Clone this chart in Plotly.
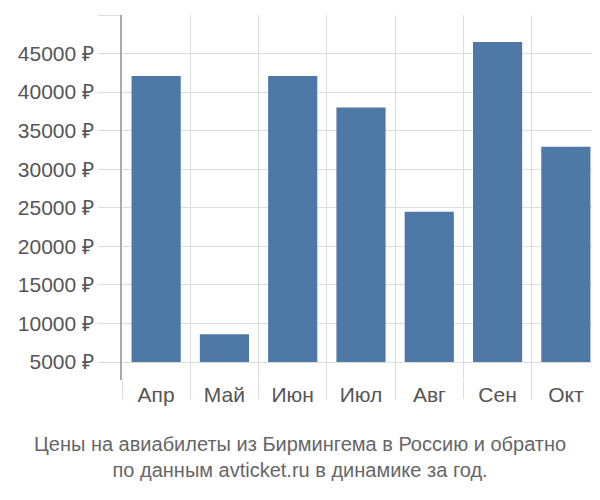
import plotly.graph_objects as go

months = ["Апр", "Май", "Июн", "Июл", "Авг", "Сен", "Окт"]
prices = [42100, 8600, 42100, 38000, 24500, 46500, 32900]
tick_vals = [5000, 10000, 15000, 20000, 25000, 30000, 35000, 40000, 45000, 50000]
tick_text = [f"{v} ₽" for v in tick_vals]

base = 5000
fig = go.Figure(
    go.Bar(
        x=months,
        y=[p - base for p in prices],
        base=base,
        marker=dict(color="#4e79a7", line=dict(width=0)),
        width=0.72,
    )
)

# page body has an 8px margin, so everything is shifted by -8 here
fig.update_layout(
    width=592,
    height=492,
    margin=dict(l=114, r=0, t=7, b=120),
    plot_bgcolor="white",
    paper_bgcolor="white",
    font=dict(family="Liberation Sans, Arial", size=21, color="#555"),
    showlegend=False,
    bargap=0.28,
)
fig.update_yaxes(
    range=[2666, 50000],
    tickvals=tick_vals,
    ticktext=tick_text,
    showgrid=True,
    gridcolor="#ddd",
    ticks="outside",
    ticklen=22,
    tickcolor="#ddd",
    showline=True,
    linecolor="#aaa",
    linewidth=1.5,
    zeroline=False,
)
fig.update_xaxes(
    type="category",
    tickson="boundaries",
    showgrid=True,
    gridcolor="#ddd",
    ticks="outside",
    ticklen=18,
    tickcolor="#ddd",
    showline=False,
)

fig.add_annotation(
    text="Цены на авиабилеты из Бирмингема в Россию и обратно<br>по данным avticket.ru в динамике за год.",
    xref="paper", yref="paper", x=0.372, y=-0.14, xanchor="center", yanchor="top",
    showarrow=False, font=dict(size=20, color="#666"),
)

fig.write_html("out.html")
